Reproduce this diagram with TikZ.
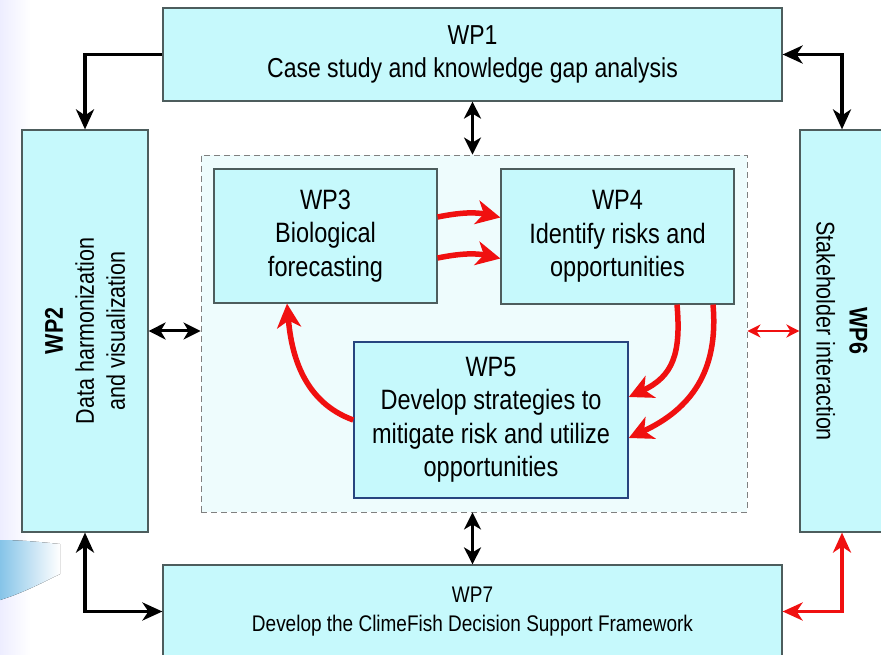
\documentclass[tikz,border=0pt]{standalone}
\usepackage{fontspec}
\setmainfont{Liberation Sans}[FakeStretch=0.84]
\usepackage{xcolor}
\usetikzlibrary{arrows.meta,positioning}

\definecolor{wpfill}{HTML}{C6F9FC}
\definecolor{wpline}{HTML}{4D5D5D}
\definecolor{wpblue}{HTML}{27457F}
\definecolor{corefill}{HTML}{EEFCFD}
\definecolor{swoosh}{HTML}{86C4E8}
\definecolor{flowred}{HTML}{F01010}

\begin{document}
\begin{tikzpicture}[
  x=1pt, y=1pt,
  wp/.style={rectangle, draw=wpline, line width=1.2pt, fill=wpfill, align=center, inner sep=0pt, font=\fontsize{28}{33.5}\selectfont},
  core/.style={rectangle, draw=gray, dashed, dash pattern=on 6pt off 4pt, line width=0.9pt, fill=corefill},
  link/.style={line width=3.5pt, black},
  short/.style={line width=3pt, {Stealth[length=17pt,width=17pt,inset=5pt]}-{Stealth[length=17pt,width=17pt,inset=5pt]}},
  redshort/.style={line width=2.5pt, flowred, {Stealth[length=13pt,width=13pt,inset=4pt]}-{Stealth[length=13pt,width=13pt,inset=4pt]}},
  flow/.style={line width=5.5pt, flowred, -{Stealth[length=24pt,width=24pt,inset=7pt]}}
]
  % background
  \useasboundingbox (0,0) rectangle (881,654);
  \clip (0,0) rectangle (881,654);
  \fill[white] (0,0) rectangle (881,654);
  \fill[left color=blue!7, right color=white] (0,0) rectangle (30,654);
  \fill[left color=swoosh, right color=white] (0,114) .. controls (20,114) and (40,112) .. (60,110)
    -- (60,80) .. controls (40,70) and (20,60) .. (0,54) -- cycle;

  \node[core, minimum width=546pt, minimum height=357pt] (core) at (474,320.5) {};

  \node[wp, minimum width=619pt, minimum height=93pt, font=\fontsize{27.4}{33}\selectfont] (wp1) at (472.5,599.5) {WP1\\Case study and knowledge gap analysis};
  \node[wp, rotate=90, minimum width=402pt, minimum height=126pt, font=\fontsize{25.6}{31}\selectfont] (wp2) at (85,323) {\textbf{WP2}\\Data harmonization\\and visualization};
  \node[wp, minimum width=223pt, minimum height=134pt] (wp3) at (325.5,418) {WP3\\Biological\\forecasting};
  \node[wp, minimum width=233pt, minimum height=135pt] (wp4) at (617.5,417.5) {WP4\\Identify risks and\\opportunities};
  \node[wp, draw=wpblue, line width=1.5pt, minimum width=274pt, minimum height=156pt] (wp5) at (491,234) {WP5\\Develop strategies to\\mitigate risk and utilize\\opportunities};
  \node[wp, rotate=-90, minimum width=402pt, minimum height=84pt, font=\fontsize{25.6}{33}\selectfont] (wp6) at (842,323) {\textbf{WP6}\\Stakeholder interaction};
  \node[wp, minimum width=619pt, minimum height=93pt, font=\fontsize{22.6}{29}\selectfont] (wp7) at (472.5,42.5) {WP7\\Develop the ClimeFish Decision Support Framework};

  % outer links
  \draw[link, -{Stealth[length=20pt,width=18pt,inset=6pt]}] (wp1.west) -| (wp2.east);
  \draw[link, {Stealth[length=20pt,width=18pt,inset=6pt]}-{Stealth[length=20pt,width=18pt,inset=6pt]}] (wp1.east) -| (wp6.west);
  \draw[link, {Stealth[length=20pt,width=18pt,inset=6pt]}-{Stealth[length=20pt,width=18pt,inset=6pt]}] (wp2.west) |- (wp7.west);
  \draw[link, flowred, {Stealth[length=20pt,width=18pt,inset=6pt]}-{Stealth[length=20pt,width=18pt,inset=6pt]}] (wp6.east) |- (wp7.east);

  \draw[short] (wp1.south) -- (wp1.south |- core.north);
  \draw[short] (wp7.north) -- (wp7.north |- core.south);
  \draw[short] (wp2.south) -- (wp2.south -| core.west);
  \draw[redshort] (wp6.south) -- (wp6.south -| core.east);

  % inner flows
  \draw[flow] ([yshift=19pt]wp3.east) to[bend left=12] ([yshift=19pt]wp4.west);
  \draw[flow] ([yshift=-22pt]wp3.east) to[bend left=12] ([yshift=-22pt]wp4.west);
  \draw[flow] ([xshift=59.5pt]wp4.south) to[out=-85, in=25, looseness=1.2] ([yshift=23pt]wp5.east);
  \draw[flow] ([xshift=95.5pt]wp4.south) to[out=-85, in=25, looseness=1.1] ([yshift=-18pt]wp5.east);
  \draw[flow] (wp5.west) to[out=160, in=-85] ([xshift=-38.5pt]wp3.south);
\end{tikzpicture}
\end{document}
